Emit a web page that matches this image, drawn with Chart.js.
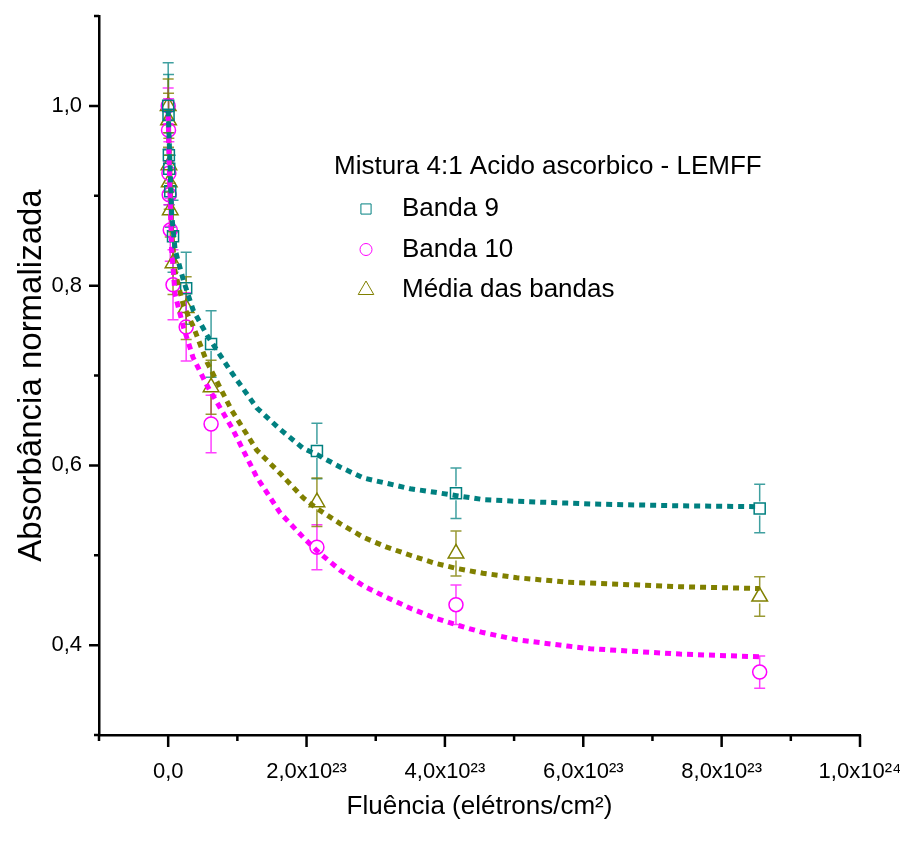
<!DOCTYPE html>
<html>
<head>
<meta charset="utf-8">
<script src="https://cdn.jsdelivr.net/npm/chart.js@4.4.1/dist/chart.umd.min.js"></script>
<style>
  html, body { margin: 0; padding: 0; background: #fff; }
</style>
</head>
<body>
<canvas id="chart" width="900" height="851"></canvas>
<script>
// Fluence in units of 10^23 electrons/cm2
const fluence = [0, 0.005, 0.01, 0.015, 0.03, 0.07, 0.26, 0.62, 2.15, 4.16, 8.55];

// Measured points
const banda9 = [1.0, 0.99, 0.945, 0.93, 0.905, 0.855, 0.797, 0.735, 0.616, 0.569, 0.552];
const banda10 = [1.0, 0.973, 0.925, 0.901, 0.862, 0.801, 0.754, 0.646, 0.509, 0.445, 0.370];
const media = [1.0, 0.984, 0.934, 0.915, 0.884, 0.825, 0.775, 0.687, 0.559, 0.502, 0.454];

// Error bars (+/-)
const banda9Err = [0.048, 0.045, 0.04, 0.04, 0.04, 0.04, 0.04, 0.037, 0.031, 0.028, 0.027];
const banda10Err = [0.02, 0.035, 0.035, 0.035, 0.035, 0.039, 0.038, 0.032, 0.025, 0.022, 0.018];
const mediaErr = [0.03, 0.03, 0.03, 0.03, 0.03, 0.035, 0.035, 0.03, 0.027, 0.025, 0.022];

// Fit curves
const fitX = [0, 0.02, 0.05, 0.1, 0.22, 0.36, 0.56, 0.92, 1.28, 1.62, 1.95, 2.15, 2.49, 2.82, 3.16, 3.5, 3.86, 4.19, 4.55, 5.04, 5.77, 6.1, 7.4, 8.55];
const fit9 = [0.995, 0.95, 0.88, 0.84, 0.806, 0.773, 0.745, 0.703, 0.664, 0.640, 0.619, 0.612, 0.598, 0.586, 0.580, 0.574, 0.570, 0.566, 0.562, 0.560, 0.558, 0.557, 0.555, 0.554];
const fit10 = [0.99, 0.92, 0.84, 0.79, 0.754, 0.720, 0.689, 0.642, 0.587, 0.547, 0.520, 0.505, 0.483, 0.466, 0.453, 0.441, 0.430, 0.422, 0.414, 0.406, 0.399, 0.396, 0.390, 0.387];
const fitMedia = [0.99, 0.935, 0.86, 0.815, 0.778, 0.755, 0.715, 0.661, 0.617, 0.591, 0.564, 0.552, 0.535, 0.520, 0.509, 0.500, 0.491, 0.485, 0.480, 0.475, 0.470, 0.469, 0.465, 0.463];

const legendTitle = "Mistura 4:1 Acido ascorbico - LEMFF";
const seriesNames = ["Banda 9", "Banda 10", "Média das bandas"];

const TEAL = "#008080";
const MAGENTA = "#ff00ff";
const OLIVE = "#808000";
const FONT = "'Liberation Sans', Arial, sans-serif";

const toPoints = (xs, ys) => xs.map((x, i) => ({ x: x, y: ys[i] }));

function pointSet(label, ys, errs, color, errColor, style, radius) {
  return {
    label: label,
    data: toPoints(fluence, ys),
    errors: errs,
    errColor: errColor,
    showLine: false,
    pointStyle: style,
    pointRadius: radius,
    pointBorderWidth: 1.5,
    pointBorderColor: color,
    pointBackgroundColor: "rgba(0,0,0,0)",
    order: 1
  };
}

function fitSet(ys, color) {
  return {
    label: "",
    isFit: true,
    data: toPoints(fitX, ys),
    showLine: true,
    borderColor: color,
    borderWidth: 5,
    borderDash: [6, 5],
    borderCapStyle: "butt",
    pointRadius: 0,
    tension: 0,
    order: 0
  };
}

// error bars, drawn below the markers
const errorBars = {
  id: "errorBars",
  beforeDatasetsDraw(chart) {
    const ctx = chart.ctx;
    const xs = chart.scales.x, ys = chart.scales.y;
    chart.data.datasets.forEach(ds => {
      if (!ds.errors) return;
      ctx.save();
      ctx.strokeStyle = ds.errColor;
      ctx.lineWidth = 1.5;
      ds.data.forEach((p, i) => {
        const e = ds.errors[i];
        const px = xs.getPixelForValue(p.x);
        const py = ys.getPixelForValue(p.y);
        const top = ys.getPixelForValue(p.y + e);
        const bot = ys.getPixelForValue(p.y - e);
        const gap = 7;
        ctx.beginPath();
        if (top < py - gap) { ctx.moveTo(px, top); ctx.lineTo(px, py - gap); }
        if (bot > py + gap) { ctx.moveTo(px, py + gap); ctx.lineTo(px, bot); }
        ctx.moveTo(px - 5.5, top); ctx.lineTo(px + 5.5, top);
        ctx.moveTo(px - 5.5, bot); ctx.lineTo(px + 5.5, bot);
        ctx.stroke();
      });
      ctx.restore();
    });
  }
};

// outward major / minor tick marks
const tickMarks = {
  id: "tickMarks",
  afterDraw(chart) {
    const ctx = chart.ctx;
    const xs = chart.scales.x, ys = chart.scales.y;
    const area = chart.chartArea;
    ctx.save();
    ctx.strokeStyle = "#000";
    ctx.lineWidth = 2.5;
    ctx.beginPath();
    xs.ticks.forEach(t => {
      const k = Math.round(t.value);
      const px = xs.getPixelForValue(t.value);
      const len = k % 2 === 0 ? 12 : 6;
      ctx.moveTo(px, area.bottom);
      ctx.lineTo(px, area.bottom + len);
    });
    ys.ticks.forEach(t => {
      const k = Math.round(t.value * 10);
      const py = ys.getPixelForValue(t.value);
      const len = k % 2 === 0 ? 10 : 5;
      ctx.moveTo(area.left, py);
      ctx.lineTo(area.left - len, py);
    });
    ctx.moveTo(area.left, area.bottom);
    ctx.lineTo(area.left - 4, area.bottom);
    ctx.stroke();
    ctx.restore();
  }
};

// legend inside the plot
const insideLegend = {
  id: "insideLegend",
  afterDraw(chart) {
    const ctx = chart.ctx;
    ctx.save();
    ctx.fillStyle = "#000";
    ctx.font = "26px " + FONT;
    ctx.textBaseline = "middle";
    ctx.textAlign = "left";
    ctx.fillText(legendTitle, 334, 167);
    const pts = chart.data.datasets.filter(d => !d.isFit);
    const sizes = [7.2, 6, 9];
    pts.forEach((ds, i) => {
      const y = 209 + i * 40.5;
      ctx.strokeStyle = ds.pointBorderColor;
      ctx.fillStyle = "rgba(0,0,0,0)";
      Chart.helpers.drawPoint(ctx, {
        pointStyle: ds.pointStyle,
        radius: sizes[i],
        rotation: 0,
        borderWidth: 1.5
      }, 366, y);
      ctx.fillStyle = "#000";
      ctx.fillText(seriesNames[i], 402, y);
    });
    ctx.restore();
  }
};

new Chart(document.getElementById("chart"), {
  type: "scatter",
  data: {
    datasets: [
      pointSet(seriesNames[0], banda9, banda9Err, TEAL, "rgba(0,128,128,0.75)", "rect", 7.8),
      pointSet(seriesNames[1], banda10, banda10Err, MAGENTA, "rgba(255,0,255,0.75)", "circle", 7),
      pointSet(seriesNames[2], media, mediaErr, OLIVE, "rgba(128,128,0,0.8)", "triangle", 9),
      fitSet(fit9, TEAL),
      fitSet(fit10, MAGENTA),
      fitSet(fitMedia, OLIVE)
    ]
  },
  options: {
    responsive: false,
    animation: false,
    layout: { padding: { top: 16, right: 40, left: 0, bottom: 0 } },
    plugins: {
      legend: { display: false },
      tooltip: { enabled: false }
    },
    scales: {
      x: {
        type: "linear",
        min: -1,
        max: 10,
        afterFit: s => { s.height = 116; s.paddingLeft = 0; s.paddingRight = 0; },
        grid: { display: false, drawTicks: false },
        border: { display: true, color: "#000", width: 2.5 },
        ticks: {
          stepSize: 1,
          padding: 24,
          autoSkip: false,
          maxRotation: 0,
          color: "#000",
          font: { family: FONT, size: 22 },
          callback: v => {
            const k = Math.round(v);
            if (k % 2 !== 0) return "";
            if (k === 0) return "0,0";
            if (k === 10) return "1,0x10²⁴";
            return k + ",0x10²³";
          }
        },
        title: {
          display: true,
          text: "Fluência (elétrons/cm²)",
          color: "#000",
          font: { family: FONT, size: 26 },
          padding: { top: 0, bottom: 29 }
        }
      },
      y: {
        type: "linear",
        min: 0.3,
        max: 1.1,
        afterFit: s => { s.width = 99; s.paddingTop = 0; s.paddingBottom = 0; },
        grid: { display: false, drawTicks: false },
        border: { display: true, color: "#000", width: 2.5 },
        ticks: {
          stepSize: 0.1,
          padding: 17,
          autoSkip: false,
          color: "#000",
          font: { family: FONT, size: 22 },
          callback: v => {
            const k = Math.round(v * 10);
            if (k % 2 !== 0) return "";
            return (k / 10).toFixed(1).replace(".", ",");
          }
        },
        title: {
          display: true,
          text: "Absorbância normalizada",
          color: "#000",
          font: { family: FONT, size: 33 },
          padding: { top: 12, bottom: 0 }
        }
      }
    }
  },
  plugins: [errorBars, tickMarks, insideLegend]
});
</script>
</body>
</html>
